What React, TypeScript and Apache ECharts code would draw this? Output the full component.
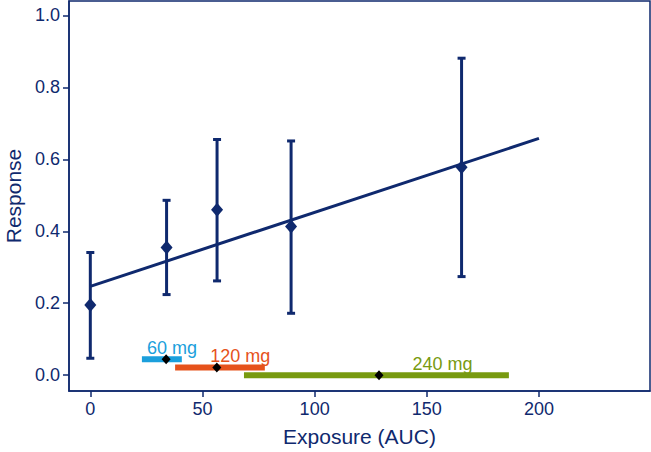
import React, { useEffect, useRef } from "react";
import * as echarts from "echarts";

const exposure = [0, 34, 56.5, 89.5, 165.5];
const response = [0.195, 0.355, 0.46, 0.413, 0.578];
const lowerCI = [0.047, 0.224, 0.262, 0.172, 0.274];
const upperCI = [0.341, 0.486, 0.655, 0.651, 0.881];

const fitX = [0, 200];
const fitY = [0.247, 0.658];

const doseLabels = ["60 mg", "120 mg", "240 mg"];
const doseLow = [23, 37.8, 68.5];
const doseHigh = [40.8, 77.8, 186.6];
const doseMedian = [33.8, 56.4, 128.7];
const doseLevel = [0.044, 0.021, 0.0];
const doseLabelX = [36.4, 66.8, 157];
const doseColors = ["#1b9fdc", "#e6521b", "#789a10"];

const xTicks = [0, 50, 100, 150, 200];
const yTicks = [0, 0.2, 0.4, 0.6, 0.8, 1.0];

const NAVY = "#0f296e";
const FONT = "'Liberation Sans', Arial, Helvetica, sans-serif";

export default function App() {
  const ref = useRef<HTMLDivElement>(null);
  useEffect(() => {
    if (!ref.current) return;
    const chart = echarts.init(ref.current, null, { renderer: "svg" });
    const option: any = {
      animation: false,
      backgroundColor: "#ffffff",
      textStyle: { fontFamily: FONT },
      grid: {
        left: 69,
        right: 1,
        top: 1,
        bottom: 61,
        containLabel: false,
        outerBoundsMode: "none",
        show: true,
        borderColor: NAVY,
        borderWidth: 1.5,
      },
      xAxis: {
        type: "value",
        min: -9.5,
        max: 249.5,
        name: "Exposure (AUC)",
        nameLocation: "middle",
        nameGap: 35,
        nameTextStyle: { color: NAVY, fontSize: 21, fontFamily: FONT },
        axisLine: { show: true, onZero: false, lineStyle: { color: NAVY, width: 1.5 } },
        axisTick: {
          show: true,
          length: 6,
          customValues: xTicks,
          lineStyle: { color: NAVY, width: 1.5 },
        },
        axisLabel: {
          customValues: xTicks,
          color: NAVY,
          fontSize: 18,
          margin: 9,
          fontFamily: FONT,
        },
        splitLine: { show: false },
      },
      yAxis: {
        type: "value",
        min: -0.044,
        max: 1.04,
        name: "Response",
        nameLocation: "middle",
        nameGap: 45,
        nameTextStyle: { color: NAVY, fontSize: 21, fontFamily: FONT },
        axisLine: { show: true, onZero: false, lineStyle: { color: NAVY, width: 1.5 } },
        axisTick: {
          show: true,
          length: 6,
          customValues: yTicks,
          lineStyle: { color: NAVY, width: 1.5 },
        },
        axisLabel: {
          customValues: yTicks,
          color: NAVY,
          fontSize: 18,
          margin: 9,
          fontFamily: FONT,
          formatter: (v: number) => v.toFixed(1),
        },
        splitLine: { show: false },
      },
      series: [
        {
          type: "line",
          data: fitX.map((x, i) => [x, fitY[i]]),
          symbol: "none",
          lineStyle: { color: NAVY, width: 3 },
          z: 2,
        },
        {
          type: "custom",
          data: exposure.map((x, i) => [x, lowerCI[i], upperCI[i]]),
          renderItem: (params: any, api: any) => {
            const x = api.value(0);
            const top = api.coord([x, api.value(2)]);
            const bot = api.coord([x, api.value(1)]);
            const w = 4;
            const st = { stroke: NAVY, lineWidth: 3 };
            return {
              type: "group",
              children: [
                { type: "line", shape: { x1: top[0], y1: top[1], x2: bot[0], y2: bot[1] }, style: st },
                { type: "line", shape: { x1: top[0] - w, y1: top[1], x2: top[0] + w, y2: top[1] }, style: st },
                { type: "line", shape: { x1: bot[0] - w, y1: bot[1], x2: bot[0] + w, y2: bot[1] }, style: st },
              ],
            };
          },
          z: 3,
        },
        {
          type: "scatter",
          data: exposure.map((x, i) => [x, response[i]]),
          symbol: "diamond",
          symbolSize: [12, 14],
          itemStyle: { color: NAVY, opacity: 1 },
          z: 4,
        },
        {
          type: "custom",
          data: doseLabels.map((_, i) => [doseLow[i], doseHigh[i], doseLevel[i], doseLabelX[i], i]),
          renderItem: (params: any, api: any) => {
            const i = api.value(4);
            const a = api.coord([api.value(0), api.value(2)]);
            const b = api.coord([api.value(1), api.value(2)]);
            const lp = api.coord([api.value(3), api.value(2)]);
            const h = 6;
            return {
              type: "group",
              children: [
                {
                  type: "rect",
                  shape: { x: a[0], y: a[1] - h / 2, width: b[0] - a[0], height: h },
                  style: { fill: doseColors[i] },
                },
                {
                  type: "text",
                  x: lp[0],
                  y: lp[1] - 11.5,
                  style: {
                    text: doseLabels[i],
                    fill: doseColors[i],
                    font: `18px ${FONT}`,
                    align: "center",
                    verticalAlign: "middle",
                  },
                },
              ],
            };
          },
          z: 5,
        },
        {
          type: "scatter",
          data: doseMedian.map((x, i) => [x, doseLevel[i]]),
          symbol: "diamond",
          symbolSize: [9, 10],
          itemStyle: { color: "#000000", opacity: 1 },
          z: 6,
        },
      ],
    };
    chart.setOption(option);
    return () => chart.dispose();
  }, []);
  return <div ref={ref} style={{ width: 651, height: 452, position: "absolute", left: 0, top: 0 }} />;
}
